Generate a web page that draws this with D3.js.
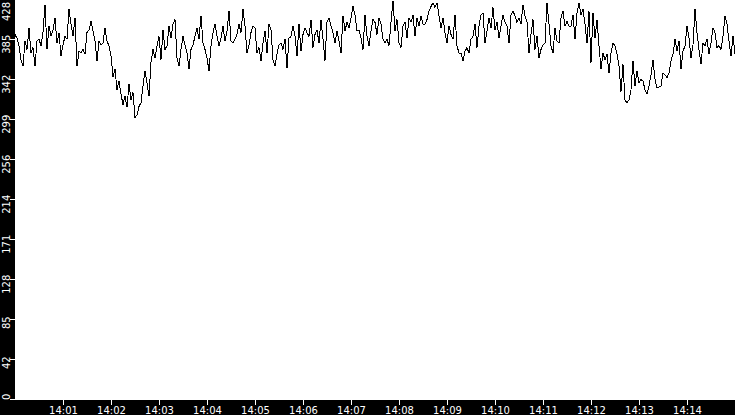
<!DOCTYPE html>
<html>
<head>
<meta charset="utf-8">
<script src="https://cdn.jsdelivr.net/npm/d3@7"></script>
<style>
  html, body { margin: 0; padding: 0; background: #000; overflow: hidden; }
  svg { display: block; }
  text { font-family: "DejaVu Sans", sans-serif; }
</style>
</head>
<body>
<div id="chart"></div>
<script>
//data - one reading every 2.5s, split in 2.5 minute blocks
const startTime = "14:00:00";
const stepMs = 2500;
const vals1400 = [390,386,378,363,356,383,374,397,370,376,356,383,385,378,392,422,374,399,388,395,
    408,381,392,367,379,388,385,417,401,388,408,356,372,370,374,369,392,395,404,394,
    383,362,383,379,381,397,383,378,367,345,353,331,340,326,315,324,312,337,320,328];
const vals1402 = [301,304,313,317,335,351,338,324,360,374,365,378,388,363,395,374,378,399,386,401,
    406,365,356,374,388,379,370,353,374,379,388,397,385,410,381,374,365,351,378,392,
    401,388,378,386,399,383,394,415,383,381,385,390,401,392,417,399,370,379,392,399];
const vals1405 = [397,370,376,362,381,394,370,401,395,363,356,369,379,381,374,385,354,386,388,399,
    388,367,401,372,390,397,392,388,406,376,390,395,381,406,385,362,403,408,399,392,
    381,394,383,370,410,394,403,397,408,420,411,394,395,386,374,411,388,378,394,406];
const vals1407 = [403,390,408,401,385,381,385,378,403,426,394,406,381,376,399,403,386,408,403,411,
    388,408,399,410,401,401,406,415,420,424,419,424,410,397,408,392,381,399,390,385,
    411,378,370,370,362,372,376,370,385,388,401,376,399,411,413,381,394,408,397,419];
const vals1410 = [395,403,386,399,411,403,399,381,411,415,410,403,408,401,422,410,404,370,390,406,
    374,388,365,374,379,381,424,401,378,370,397,383,381,408,415,399,404,399,399,411,
    385,413,424,411,417,401,381,415,360,413,386,406,378,353,370,363,369,349,370,381];
const vals1412 = [378,369,356,329,358,320,317,320,331,362,335,351,338,342,340,331,326,335,347,363,
    342,333,334,335,349,347,344,349,362,369,385,372,383,353,372,378,399,386,365,379,
    417,392,374,358,381,378,385,369,381,397,392,376,378,374,388,410,401,383,367,388,369];

const yMax = 428;
const yTickLabels = ["0","42","85","128","171","214","256","299","342","385","428"];
const xTickLabels = ["14:01","14:02","14:03","14:04","14:05","14:06","14:07",
    "14:08","14:09","14:10","14:11","14:12","14:13","14:14"];
const endTime = "14:15:00";

function timeLineChartGenerator(){
    //dimensions
    let width = 735;
    let height = 415;
    let margin = { left: 15, right: 0, top: 0, bottom: 15 };
    let contentsWidth;
    let contentsHeight;
    const updateDimns = () => {
        contentsWidth = width - margin.left - margin.right;
        contentsHeight = height - margin.top - margin.bottom;
    }

    function myChart(selection){
        selection.each(function(data){
            updateDimns();
            const parseTime = d3.timeParse("%H:%M:%S");
            const parseTick = d3.timeParse("%H:%M");
            const t0 = parseTime(startTime);
            const points = data.map((v, i) => ({ time: new Date(+t0 + i * stepMs), value: v }));

            const x = d3.scaleTime()
                .domain([t0, parseTime(endTime)])
                .range([0, contentsWidth]);
            const y = d3.scaleLinear()
                .domain([0, yMax])
                .range([contentsHeight - 1, -1]);

            const svg = d3.select(this).append("svg")
                .attr("width", width)
                .attr("height", height);

            svg.append("rect")
                .attr("width", width)
                .attr("height", height)
                .attr("fill", "#000");

            const contentsG = svg.append("g")
                .attr("transform", "translate(" + margin.left + "," + margin.top + ")");

            contentsG.append("rect")
                .attr("width", contentsWidth)
                .attr("height", contentsHeight)
                .attr("fill", "#fff");

            svg.append("clipPath").attr("id", "plot-clip")
                .append("rect")
                .attr("width", contentsWidth)
                .attr("height", contentsHeight);

            const line = d3.line()
                .x(d => x(d.time))
                .y(d => y(d.value));

            contentsG.append("path")
                .datum(points)
                .attr("clip-path", "url(#plot-clip)")
                .attr("fill", "none")
                .attr("stroke", "#000")
                .attr("stroke-width", 1)
                .attr("shape-rendering", "crispEdges")
                .attr("d", line);

            //x axis
            const xAxisG = contentsG.append("g")
                .attr("transform", "translate(0," + contentsHeight + ")")
                .call(d3.axisBottom(x)
                    .tickValues(xTickLabels.map(parseTick))
                    .tickFormat(d3.timeFormat("%H:%M"))
                    .tickSize(5)
                    .tickPadding(2));
            xAxisG.select(".domain").remove();
            xAxisG.selectAll("line").attr("stroke", "#fff");
            xAxisG.selectAll("text")
                .attr("fill", "#fff")
                .style("font-size", "10px");

            //y axis - rotated labels, kept inside the plot height
            const yTicks = yTickLabels.map((l, i) => yMax * i / (yTickLabels.length - 1));
            const yAxisG = contentsG.append("g")
                .call(d3.axisLeft(y)
                    .tickValues(yTicks)
                    .tickFormat((d, i) => yTickLabels[i])
                    .tickSize(5));
            yAxisG.select(".domain").remove();
            yAxisG.selectAll("line").attr("stroke", "#fff");
            yAxisG.selectAll("text")
                .attr("fill", "#fff")
                .style("font-size", "10px")
                .attr("text-anchor", "middle")
                .attr("dy", null)
                .attr("transform", "rotate(-90)")
                .attr("y", -5.5)
                .each(function(d){
                    const len = this.getComputedTextLength();
                    const t = y(d) + 0.5;
                    let c = t + len / 4;
                    c = Math.max(c, 2 + len / 2);
                    c = Math.min(c, contentsHeight - len / 2);
                    d3.select(this).attr("x", -(c - t));
                });
        })
        return selection;
    }

    // api
    myChart.width = function (value) {
        if (!arguments.length) { return width; }
        width = value;
        return myChart;
    };
    myChart.height = function (value) {
        if (!arguments.length) { return height; }
        height = value;
        return myChart;
    };
    return myChart;
}

const values = [].concat(vals1400, vals1402, vals1405, vals1407, vals1410, vals1412);
const chart = timeLineChartGenerator().width(735).height(415);
d3.select("#chart").datum(values).call(chart);
</script>
</body>
</html>
